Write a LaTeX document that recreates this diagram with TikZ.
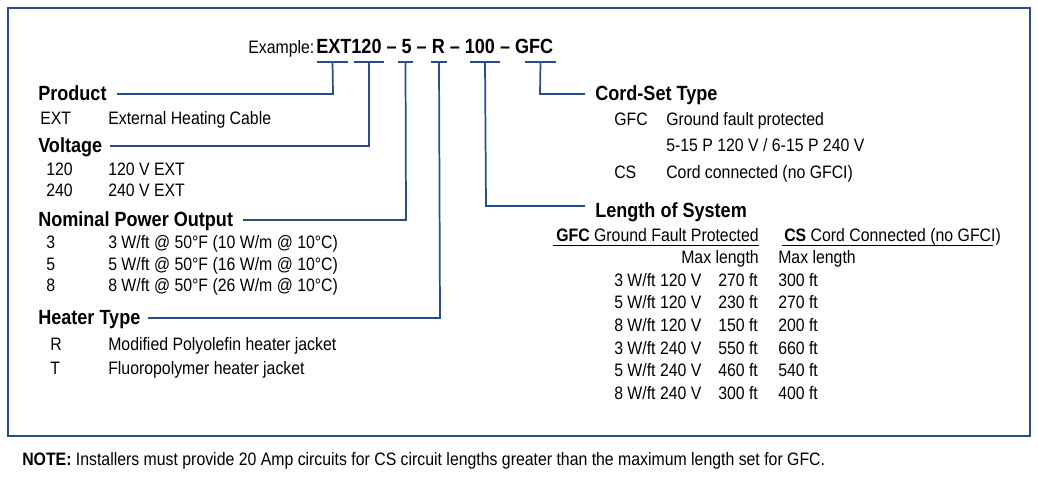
\documentclass[tikz,border=0pt]{standalone}
\usepackage{fontspec}
\setmainfont{Liberation Sans}[FakeStretch=0.88]
\definecolor{frame}{RGB}{38,78,140}
\begin{document}
\begin{tikzpicture}[x=0.75pt,y=-0.75pt,
  t/.style={anchor=base west,inner sep=0pt,font=\fontsize{13.5}{15}\selectfont},
  tr/.style={anchor=base east,inner sep=0pt,font=\fontsize{13.5}{15}\selectfont},
  h/.style={anchor=base west,inner sep=0pt,font=\fontsize{15.4}{17}\selectfont\bfseries},
  conn/.style={frame,line width=1.3pt},
  ul/.style={frame,line width=1.3pt}]
\useasboundingbox (0,0) rectangle (1038,486);
\draw[frame,line width=1.2pt] (8,8) rectangle (1030,436);
% example
\node[t] (ex) at (248,53) {Example:};
\node[anchor=base west,inner sep=0pt,font=\fontsize{15.4}{17}\selectfont\bfseries] (code) at (316,53) {EXT120 -- 5 -- R -- 100 -- GFC};
\foreach \n/\a/\b in {u1/317/348,u2/354/384,u3/398/413,u4/431/447,u5/470/500,u6/525/556}{
  \draw[ul] (\a,62) -- (\b,62);
  \coordinate (\n) at ({(\a+\b)/2},62);}
% left headings
\node[h] (prod) at (38,100) {Product};
\node[t] at (40,124) {EXT}; \node[t] at (108,124) {External Heating Cable};
\node[h] (volt) at (38,152) {Voltage};
\node[t] at (46,175) {120}; \node[t] at (108,175) {120 V EXT};
\node[t] at (46,196) {240}; \node[t] at (108,196) {240 V EXT};
\node[h] (npo) at (38,226) {Nominal Power Output};
\node[t] at (46,248) {3}; \node[t] at (108,248) {3 W/ft @ 50°F (10 W/m @ 10°C)};
\node[t] at (46,270) {5}; \node[t] at (108,270) {5 W/ft @ 50°F (16 W/m @ 10°C)};
\node[t] at (46,291) {8}; \node[t] at (108,291) {8 W/ft @ 50°F (26 W/m @ 10°C)};
\node[h] (heat) at (38,324) {Heater Type};
\node[t] at (50,350) {R}; \node[t] at (108,350) {Modified Polyolefin heater jacket};
\node[t] at (50,374) {T}; \node[t] at (108,374) {Fluoropolymer heater jacket};
% connectors left
\draw[conn] (117,94) -- (333,94) -- (u1);
\draw[conn] (110,146) -- (369,146) -- (u2);
\draw[conn] (243,220) -- (406,220) -- (u3);
\draw[conn] (148,318) -- (440,318) -- (u4);
% right
\node[h] (cord) at (595,100) {Cord-Set Type};
\node[t] at (614,125) {GFC}; \node[t] at (666,125) {Ground fault protected};
\node[t] at (666,151) {5-15 P 120 V / 6-15 P 240 V};
\node[t] at (614,178) {CS}; \node[t] at (666,178) {Cord connected (no GFCI)};
\draw[conn] (u6) -- (540,94) -- (585,94);
\node[h] (len) at (595,217) {Length of System};
\draw[conn] (u5) -- (486,206) -- (585,206);
\node[t] at (556,241) {\textbf{GFC} Ground Fault Protected};
\node[t] at (784,241) {\textbf{CS} Cord Connected (no GFCI)};
\draw[line width=0.6pt] (553,245) -- (759,245);
\draw[line width=0.6pt] (782,245) -- (993,245);
\node[tr] at (759,263) {Max length};
\node[t] at (778,263) {Max length};
\foreach \i/\a/\b/\c in {0/{3 W/ft 120 V}/270 ft/300 ft,1/{5 W/ft 120 V}/230 ft/270 ft,2/{8 W/ft 120 V}/150 ft/200 ft,3/{3 W/ft 240 V}/550 ft/660 ft,4/{5 W/ft 240 V}/460 ft/540 ft,5/{8 W/ft 240 V}/300 ft/400 ft}{
  \node[t] at (614,{286+\i*22.7}) {\a};
  \node[t] at (718,{286+\i*22.7}) {\b};
  \node[t] at (778,{286+\i*22.7}) {\c};}
\node[t] (note) at (22,465) {\textbf{NOTE:} Installers must provide 20 Amp circuits for CS circuit lengths greater than the maximum length set for GFC.};
\end{tikzpicture}
\end{document}
